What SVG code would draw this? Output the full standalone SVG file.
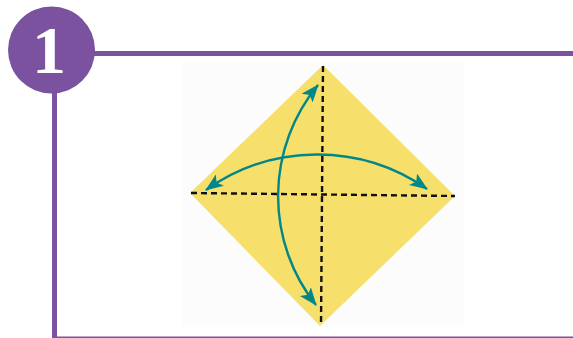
<svg xmlns="http://www.w3.org/2000/svg" width="573" height="338" viewBox="0 0 573 338">
  <style>
    .frame { stroke: #7a529f; fill: none; }
    .num { font-family: "Liberation Serif", "Times New Roman", serif; font-weight: 700; font-size: 68px; fill: #ffffff; }
    .fold { stroke: #111; stroke-width: 2.4; stroke-dasharray: 6 4; fill: none; }
    .arrow { stroke: #00878a; stroke-width: 2.4; fill: none; marker-start: url(#ah); marker-end: url(#ah); }
  </style>
  <defs>
    <marker id="ah" markerUnits="userSpaceOnUse" markerWidth="20" markerHeight="16" viewBox="0 0 20 16" refX="17" refY="7" orient="auto-start-reverse">
      <path d="M0,0 L18,7 L0,14 L4,7 z" fill="#00878a"/>
    </marker>
  </defs>
  <rect width="573" height="338" fill="#ffffff"/>
  <g id="header">
    <line class="frame" x1="90" y1="53.5" x2="573" y2="53.5" stroke-width="5"/>
    <line class="frame" x1="54.5" y1="90" x2="54.5" y2="338" stroke-width="5"/>
    <line class="frame" x1="52" y1="337.3" x2="573" y2="337.3" stroke-width="1.6"/>
    <circle cx="51.5" cy="50" r="43.5" fill="#7a529f"/>
    <text class="num" x="49" y="73" text-anchor="middle">1</text>
  </g>
  <g id="photo">
    <rect x="182" y="62" width="282" height="265" fill="#fcfcfc"/>
  </g>
  <g id="paper">
    <polygon points="323,65 455,196 320,326 190,193" fill="#f6df6a"/>
  </g>
  <g id="folds">
    <line class="fold" x1="323" y1="66" x2="321" y2="326"/>
    <line class="fold" x1="191" y1="193" x2="455" y2="196"/>
  </g>
  <g id="connectors">
    <path class="arrow" d="M206,190 A192,192 0 0 1 427,189"/>
    <path class="arrow" d="M318,85 A175,175 0 0 0 316,305"/>
  </g>
</svg>
